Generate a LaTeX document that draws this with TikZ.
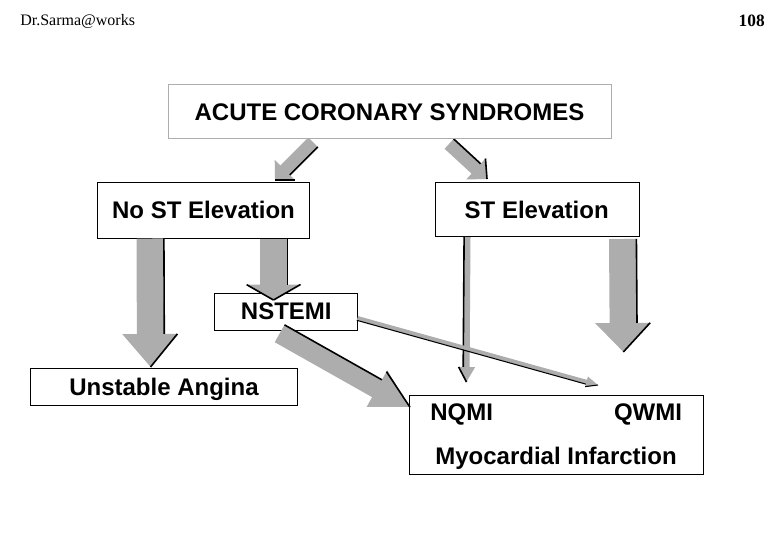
\documentclass[tikz,border=0pt]{standalone}
\usepackage{fontspec}
\setmainfont{Liberation Sans}
\newfontfamily\hdrfont{Liberation Serif}
\usetikzlibrary{calc,arrows.meta}
\definecolor{arrowgray}{HTML}{ADADAD}
\tikzset{
  box/.style={draw=black,line width=0.75pt,fill=white,inner sep=0pt,font=\fontsize{18pt}{18pt}\bfseries},
  graybox/.style={box,draw=arrowgray},
  lbl/.style={inner sep=0pt,anchor=base,font=\fontsize{18pt}{18pt}\bfseries},
  hdr/.style={inner sep=0pt,anchor=base,font=\hdrfont\fontsize{12pt}{13pt}\selectfont},
  flowarrow/.style={draw=arrowgray},
  edgeline/.style={draw=black,line width=1.2pt}
}
% \fatarrow[shadow opts]{side angle}{from}{to}{shaft width}{head width}{head length} (px)
\newcommand{\fatarrow}[7][]{%
  \pgfmathsetlengthmacro\shaftw{#5*0.75pt}%
  \pgfmathsetlengthmacro\headw{#6*0.75pt}%
  \pgfmathsetlengthmacro\headl{#7*0.75pt}%
  \pgfmathsetlengthmacro\shafto{#5*0.375pt+0.3pt}%
  \pgfmathsetlengthmacro\heado{#6*0.375pt}%
  \draw[flowarrow,line width=\shaftw,-{Triangle[length=\headl,width=\headw]}] (#3) -- (#4);
  \coordinate (hb) at ($(#4)!\headl!(#3)$);
  \draw[edgeline,#1] ($(#3)!\shafto!#2:(#4)$) -- ($(hb)!\shafto!#2:(#4)$);
  \draw[edgeline,#1] ($(hb)!\heado!#2:(#4)$) -- (#4);
}
\begin{document}
\begin{tikzpicture}[x=0.75pt,y=-0.75pt]
\path[use as bounding box,fill=white] (0,0) rectangle (780,540);
\node[hdr,anchor=base west] (hdl) at (20,25) {Dr.Sarma@works};
\node[hdr,anchor=base east,font=\hdrfont\fontsize{13pt}{13pt}\selectfont\bfseries] (hdr) at (765,26) {108};
% arrows behind the boxes
\coordinate (a1) at (313,142); \coordinate (b1) at (275,180);
\coordinate (a2) at (449,144); \coordinate (b2) at (487,179);
\fatarrow{90}{a1}{b1}{13}{28}{14}
\fatarrow{90}{a2}{b2}{13}{28}{15}
% boxes
\node[graybox,minimum width=443*0.75pt,minimum height=54*0.75pt] (acs) at (389.5,111) {};
\node[box,minimum width=212*0.75pt,minimum height=56*0.75pt] (nost) at (203.5,210.3) {};
\node[box,minimum width=204*0.75pt,minimum height=54.5*0.75pt] (st) at (537.3,209.5) {};
\node[box,minimum width=143*0.75pt,minimum height=37*0.75pt] (nstemi) at (285.8,311.7) {};
\node[box,minimum width=266.5*0.75pt,minimum height=37*0.75pt] (ua) at (164,386.8) {};
\node[box,minimum width=294*0.75pt,minimum height=79*0.75pt] (mi) at (556,434.5) {};
% remaining arrows
\coordinate (a3) at (150,238.5); \coordinate (b3) at (150.5,367);
\coordinate (a4) at (273.5,238.5); \coordinate (b4) at (273.5,300);
\coordinate (a5) at (279.5,333.7); \coordinate (b5) at (410,407.3);
\coordinate (a6) at (467.5,237); \coordinate (b6) at (466.5,382);
\coordinate (a7) at (622.5,239); \coordinate (b7) at (623.3,352);
\coordinate (a8) at (357.5,318); \coordinate (b8) at (598,385);
\fatarrow{90}{a3}{b3}{27}{54}{33}
\fatarrow{90}{a4}{b4}{27}{54}{15.5}
\draw[edgeline] (246.7,284.7) -- (b4);
\fatarrow{90}{a5}{b5}{19.5}{39}{38}
\fatarrow{-90}{a6}{b6}{6}{16}{15}
\fatarrow{90}{a7}{b7}{27}{54}{29}
\fatarrow[line width=0.8pt]{-90}{a8}{b8}{4}{10}{12}
% texts
\node[lbl] (t1) at (389.5,120) {ACUTE CORONARY SYNDROMES};
\node[lbl] (t2) at (203.5,218.3) {No ST Elevation};
\node[lbl] (t3) at (536.7,218.3) {ST Elevation};
\node[lbl] (t4) at (286.3,319.3) {NSTEMI};
\node[lbl] (t5) at (164,395) {Unstable Angina};
\node[lbl] (t6) at (461.7,420.7) {NQMI};
\node[lbl] (t7) at (648,420.7) {QWMI};
\node[lbl] (t8) at (556,464.3) {Myocardial Infarction};
\end{tikzpicture}
\end{document}
